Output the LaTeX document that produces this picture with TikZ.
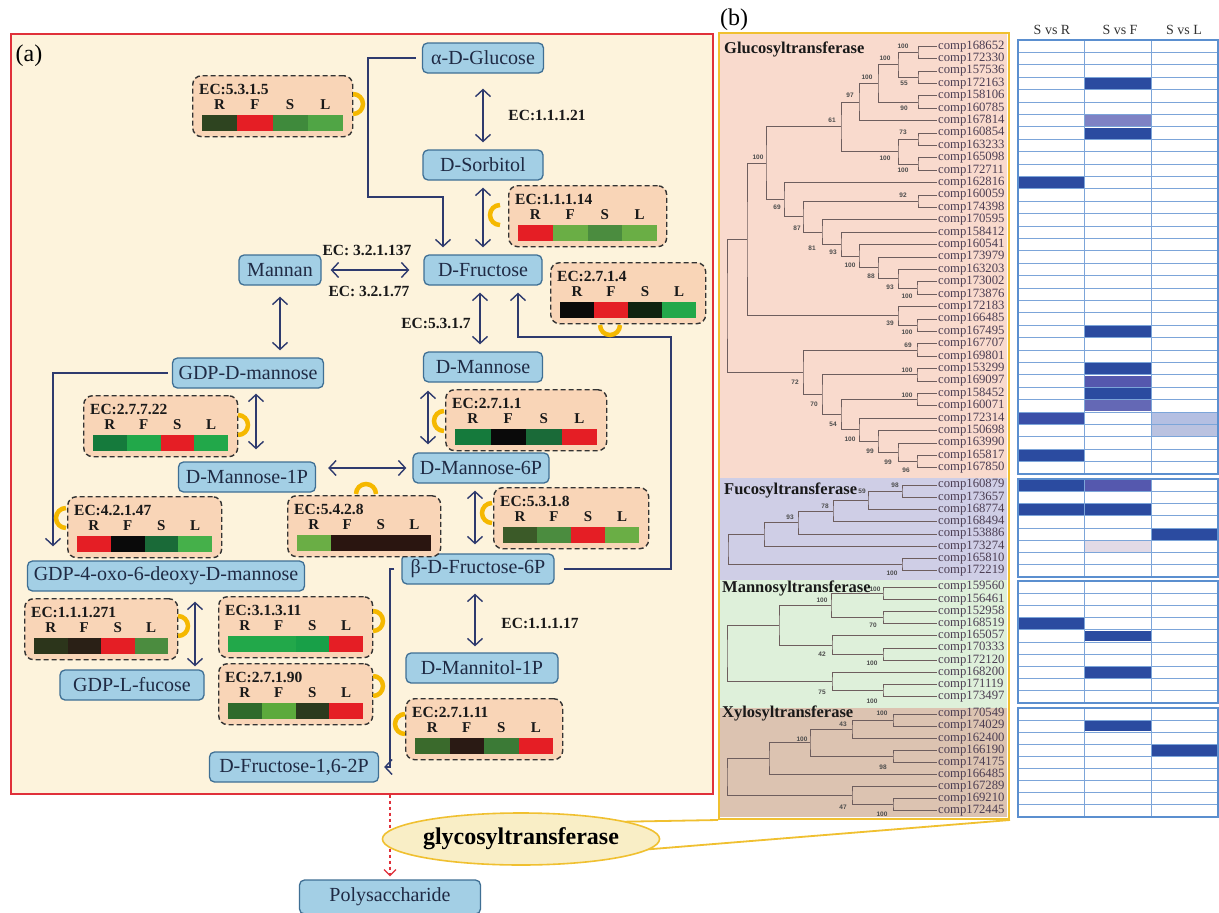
\documentclass[tikz,border=0pt]{standalone}
\usepackage{fontspec}
\setmainfont{Liberation Serif}
\newfontfamily\bsfont{Liberation Sans}
\newfontfamily\leaffont{Liberation Serif}
\usetikzlibrary{arrows.meta,calc,shapes.geometric}

\definecolor{navy}{HTML}{2E3A6E}
\definecolor{boxfill}{HTML}{A3CFE5}
\definecolor{boxdraw}{HTML}{3F6F94}
\definecolor{nodetext}{HTML}{1F2A44}
\definecolor{cream}{HTML}{FDF3DC}
\definecolor{ecfill}{HTML}{F9D5B7}
\definecolor{panelred}{HTML}{E0303A}
\definecolor{gold}{HTML}{F0C030}
\definecolor{arcgold}{HTML}{F5B800}
\definecolor{ellfill}{HTML}{F9EEC6}
% heat (panel a)
\definecolor{hred}{HTML}{E51E25}
\definecolor{hblack}{HTML}{0A0A0A}
\definecolor{hvdg}{HTML}{102310}
\definecolor{hbrg}{HTML}{22A84A}
\definecolor{hg}{HTML}{157A3C}
\definecolor{hdg}{HTML}{1A6A38}
\definecolor{hlg}{HTML}{6AAE45}
\definecolor{hlg2}{HTML}{45B04A}
\definecolor{hmg}{HTML}{4B8C3F}
\definecolor{holive}{HTML}{3B5A28}
\definecolor{hdk1}{HTML}{2C351B}
\definecolor{hdk2}{HTML}{2A2016}
\definecolor{hbrown}{HTML}{2A1510}
\definecolor{hdkg}{HTML}{2E4420}
\definecolor{hmg2}{HTML}{3F8A3C}
\definecolor{hlg3}{HTML}{50A545}
\definecolor{hg3}{HTML}{18A048}
\definecolor{hdg4}{HTML}{2F6A2C}
\definecolor{hlg4}{HTML}{5CAA3C}
\definecolor{hdk4}{HTML}{2B3A1E}
\definecolor{hdg5}{HTML}{3A6A2C}
\definecolor{hdk5}{HTML}{2A1A14}
\definecolor{hmg5}{HTML}{3B7A36}
% panel b
\definecolor{gbg}{HTML}{F9DACD}
\definecolor{fbg}{HTML}{CFCEE6}
\definecolor{mbg}{HTML}{DEF0DA}
\definecolor{xbg}{HTML}{DCC3B1}
\definecolor{treecol}{HTML}{6E5E5E}
\definecolor{leafcol}{HTML}{4B3D52}
\definecolor{hb}{HTML}{2B4BA0}
\definecolor{hbb}{HTML}{3A4FA8}
\definecolor{hm1}{HTML}{5558AE}
\definecolor{hm2}{HTML}{6468B5}
\definecolor{hm3}{HTML}{7E82C4}
\definecolor{hl1}{HTML}{B4BFE2}
\definecolor{hl2}{HTML}{BAC2E0}
\definecolor{hvl}{HTML}{E2DAE6}
\definecolor{gridcol}{HTML}{5B8FCF}

\newcommand\ecbox[9]{%
  \node[ecbox, minimum width={(#4)-(#2)}, anchor=north west] (#1) at (#2,#3) {};
  \node[eclab, anchor=base west] (#1-lab) at (#2+7,#3+19) {#5};
  \pgfmathsetmacro\ecw{((#4)-(#2)-19)/4}%
  \foreach \c/\l [count=\i from 0] in {#6/R,#7/F,#8/S,#9/L}{%
    \fill[\c] (#2+10+\i*\ecw,#3+40) rectangle ++(\ecw,16);
    \node[rfsl, anchor=base] (#1-\l) at (#2+10+\i*\ecw+\ecw/2,#3+34) {\l};
  }%
}
\newcommand\yarc[3]{% x y start-angle
  \draw[yarc] ([shift={(#3:10pt)}]#1,#2) arc[start angle=#3, delta angle=180, radius=10pt];
}
\newcommand\inode[4]{%
  \coordinate (#1m) at ($(#3)!0.5!(#4)$);
  \coordinate (#1) at (#2,0 |- #1m);
  \draw[tree] (#3) -| (#1) |- (#4);
}
\newcommand\leafrow[4]{% prefix y0 dy list
  \foreach \n [count=\i from 0] in {#4}{%
    \coordinate (#1l\i) at (937,{#2+#3*\i});
    \node[anchor=west, inner sep=1pt, text=leafcol] (#1t\i) at (#1l\i) {\leaffont\fontsize{12.7}{13}\selectfont comp\n};
  }%
}
\newcommand\hgrid[3]{%
  \fill[white] (1018,{#1-#2/2}) rectangle (1218,{#1+#2*(#3-0.5)});
}
\newcommand\hlines[3]{%
  \foreach \k in {1,...,#3} \draw[hline] (1018,{#1+#2*(\k-0.5)}) -- (1218,{#1+#2*(\k-0.5)});
  \draw[hline] (1084.67,{#1-#2/2}) -- (1084.67,{#1+#2*(#3-0.5)});
  \draw[hline] (1151.33,{#1-#2/2}) -- (1151.33,{#1+#2*(#3-0.5)});
  \draw[hborder] (1018,{#1-#2/2}) rectangle (1218,{#1+#2*(#3-0.5)});
}
\newcommand\hc[5]{%
  \fill[#5] ({1018+66.67*#4+0.7},{#1+#2*(#3-0.5)+0.7}) rectangle ++({66.67-1.4},{#2-1.4});
}

\begin{document}
\begin{tikzpicture}[x=1pt,y=-1pt,
  box/.style={rectangle, rounded corners=5pt, fill=boxfill, draw=boxdraw, line width=1.3pt,
     minimum height=30pt, inner sep=0pt, text=nodetext, font=\fontsize{20}{22}\selectfont},
  ecbox/.style={rectangle, rounded corners=9pt, fill=ecfill, draw=black!80, dash pattern=on 5pt off 3pt,
     line width=1.4pt, minimum height=61pt, inner sep=0pt},
  eclab/.style={inner sep=0pt, text=black!90, font=\bfseries\fontsize{15.5}{17}\selectfont},
  rfsl/.style={inner sep=0pt, text=black!90, font=\bfseries\fontsize{15}{17}\selectfont},
  dbl/.style={draw=navy, line width=1.4pt, {Straight Barb[length=7pt,width=15pt]}-{Straight Barb[length=7pt,width=15pt]}},
  arr/.style={draw=navy, line width=1.4pt, -{Straight Barb[length=7pt,width=15pt]}},
  yarc/.style={draw=arcgold, line width=4.5pt},
  tree/.style={draw=treecol, line width=1pt},
  bs/.style={inner sep=0pt, text=black!70, font=\bsfont\bfseries\fontsize{6.5}{7}\selectfont},
  sect/.style={anchor=west, inner sep=0pt, text=black!90, font=\bfseries\fontsize{16.5}{18}\selectfont},
  hline/.style={draw=gridcol!80, line width=0.9pt},
  hborder/.style={draw=gridcol, line width=1.3pt},
  hdr/.style={inner sep=0pt, text=black!80, font=\fontsize{14}{15}\selectfont},
  goldline/.style={draw=gold, line width=1.8pt}]
\useasboundingbox (0,0) rectangle (1219,913);
\fill[white] (0,0) rectangle (1219,913);

%================ PANEL A =================
\node[draw=panelred, fill=cream, line width=1.5pt, minimum width=702pt, minimum height=760pt,
      anchor=north west, inner sep=0pt] (pa) at (10,33) {};
\node[inner sep=0pt, font=\fontsize{24}{26}\selectfont] (la) at (29,56) {(a)};

% metabolites
\node[box, minimum width=121pt] (glc) at (483,58) {α-D-Glucose};
\node[box, minimum width=120pt] (sor) at (483,165) {D-Sorbitol};
\node[box, minimum width=118pt] (fru) at (483,270) {D-Fructose};
\node[box, minimum width=82pt] (mnn) at (280,270) {Mannan};
\node[box, minimum width=119pt] (dman) at (483,367) {D-Mannose};
\node[box, minimum width=151pt] (gdpm) at (248,373) {GDP-D-mannose};
\node[box, minimum width=137pt] (m1p) at (247,477) {D-Mannose-1P};
\node[box, minimum width=136pt] (m6p) at (481,468) {D-Mannose-6P};
\node[box, minimum width=277pt] (gdp4) at (166,576) {GDP-4-oxo-6-deoxy-D-mannose};
\node[box, minimum width=152pt] (f6p) at (478,569) {β-D-Fructose-6P};
\node[box, minimum width=152pt] (mtl) at (482,668) {D-Mannitol-1P};
\node[box, minimum width=144pt] (fuc) at (132,685) {GDP-L-fucose};
\node[box, minimum width=169pt] (f16) at (294,767) {D-Fructose-1,6-2P};

% enzyme labels
\node[eclab] (e1121) at (547,115) {EC:1.1.1.21};
\node[eclab] (e137) at (367,250) {EC: 3.2.1.137};
\node[eclab] (e77) at (369,291) {EC: 3.2.1.77};
\node[eclab] (e5317) at (436,323) {EC:5.3.1.7};
\node[eclab] (e11117) at (540,623) {EC:1.1.1.17};

% connectors
\draw[dbl, shorten <=15pt, shorten >=7pt] (glc.south) -- (sor.north);
\draw[dbl, shorten <=7pt, shorten >=7pt] (sor.south) -- (fru.north);
\coordinate (b1) at (368,197);
\draw[arr, shorten <=6pt, shorten >=7pt] (glc.west) -| (b1) -| ([xshift=-40pt]fru.north);
\draw[dbl, shorten <=9pt, shorten >=14pt] (mnn.east) -- (fru.west);
\draw[dbl, shorten <=11pt, shorten >=7pt] (mnn.south) -- (mnn.south |- gdpm.north);
\draw[dbl, shorten <=7pt, shorten >=7pt] ([xshift=-3pt]fru.south) -- ([xshift=-3pt]dman.north);
\coordinate (b2) at (671,337);
\draw[arr, shorten <=9pt, shorten >=7pt] (f6p.east) -| (b2) -| ([xshift=35pt]fru.south);
\draw[dbl, shorten <=8pt, shorten >=8pt] ([xshift=-55pt]dman.south) -- ([xshift=-55pt]dman.south |- m6p.north);
\draw[dbl, shorten <=5pt, shorten >=12pt] ([xshift=8pt]gdpm.south) -- ([xshift=8pt]gdpm.south |- m1p.north);
\draw[dbl, shorten <=12pt, shorten >=6pt] (m1p.east |- m6p.west) -- (m6p.west);
\draw[dbl, shorten <=7pt, shorten >=9pt] ([xshift=-6pt]m6p.south) -- ([xshift=-6pt]m6p.south |- f6p.north);
\draw[dbl, shorten <=9pt, shorten >=6pt] ([xshift=-3pt]f6p.south) -- ([xshift=-3pt]f6p.south |- mtl.north);
\draw[arr, shorten <=4pt, shorten >=14pt] (gdpm.west) -| ([xshift=-113pt]gdp4.north);
\draw[dbl, shorten <=10pt, shorten >=3pt] ([xshift=29pt]gdp4.south) -- ([xshift=29pt]gdp4.south |- fuc.north);
\draw[arr, shorten <=7pt, shorten >=5pt] (f6p.west) -| ([xshift=11pt]f16.east) -- (f16.east);

% enzyme boxes
\ecbox{ec1}{192}{75}{352}{EC:5.3.1.5}{hdkg}{hred}{hmg2}{hlg3}
\ecbox{ec2}{508}{185}{666}{EC:1.1.1.14}{hred}{hlg}{hmg}{hlg}
\ecbox{ec3}{550}{262}{705}{EC:2.7.1.4}{hblack}{hred}{hvdg}{hbrg}
\ecbox{ec4}{445}{389}{606}{EC:2.7.1.1}{hg}{hblack}{hdg}{hred}
\ecbox{ec5}{83}{395}{237}{EC:2.7.7.22}{hg}{hbrg}{hred}{hbrg}
\ecbox{ec6}{67}{496}{221}{EC:4.2.1.47}{hred}{hblack}{hdg}{hlg2}
\ecbox{ec7}{287}{495}{440}{EC:5.4.2.8}{hlg}{hbrown}{hbrown}{hbrown}
\ecbox{ec8}{493}{487}{648}{EC:5.3.1.8}{holive}{hmg}{hred}{hlg}
\ecbox{ec9}{24}{598}{177}{EC:1.1.1.271}{hdk1}{hdk2}{hred}{hmg}
\ecbox{ec10}{218}{596}{372}{EC:3.1.3.11}{hbrg}{hbrg}{hg3}{hred}
\ecbox{ec11}{218}{663}{372}{EC:2.7.1.90}{hdg4}{hlg4}{hdk4}{hred}
\ecbox{ec12}{405}{698}{562}{EC:2.7.1.11}{hdg5}{hdk5}{hmg5}{hred}

% gold arcs
\yarc{353}{104}{-90}
\yarc{500}{215}{90}
\yarc{610}{325}{180}
\yarc{444}{421}{90}
\yarc{238}{425}{-90}
\yarc{66}{518}{90}
\yarc{366}{494}{0}
\yarc{492}{513}{90}
\yarc{178}{626}{-90}
\yarc{373}{621}{-90}
\yarc{373}{686}{-90}
\yarc{405}{724}{90}

% bottom part
\node[box, minimum width=181pt, minimum height=34pt] (poly) at (390,897) {Polysaccharide};
\draw[draw=panelred, line width=1.2pt, dashed, -{Straight Barb[length=6pt,width=12pt]}, shorten >=3pt]
   (poly.north |- pa.south) -- (poly.north);

%================ PANEL B =================
\fill[gbg] (719,33) rectangle (1007,478);
\fill[fbg] (719,478) rectangle (1007,580);
\fill[mbg] (719,580) rectangle (1007,708);
\fill[xbg] (719,708) rectangle (1007,817);

\node[inner sep=0pt, font=\fontsize{24}{26}\selectfont] (lb) at (734,20) {(b)};

% leaves
\leafrow{g}{46.2}{12.4}{168652,172330,157536,172163,158106,160785,167814,160854,163233,165098,172711,162816,160059,174398,170595,158412,160541,173979,163203,173002,173876,172183,166485,167495,167707,169801,153299,169097,158452,160071,172314,150698,163990,165817,167850}
\leafrow{f}{485.1}{12.25}{160879,173657,168774,168494,153886,173274,165810,172219}
\leafrow{m}{587.1}{12.2}{159560,156461,152958,168519,165057,170333,172120,168200,171119,173497}
\leafrow{x}{714}{12.11}{170549,174029,162400,166190,174175,166485,167289,169210,172445}

% glucosyltransferase tree
\inode{gA}{918}{gl0}{gl1}
\inode{gB}{918}{gl2}{gl3}
\inode{gC}{898}{gA}{gB}
\inode{gD}{918}{gl4}{gl5}
\inode{gE}{878}{gC}{gD}
\inode{gF}{859}{gE}{gl6}
\inode{gG}{918}{gl7}{gl8}
\inode{gH}{918}{gl9}{gl10}
\inode{gI}{898}{gG}{gH}
\inode{gJ}{841}{gF}{gI}
\inode{gK}{918}{gl12}{gl13}
\inode{gT}{917}{gl19}{gl20}
\inode{gS}{898}{gl18}{gT}
\inode{gR}{878}{gl17}{gS}
\inode{gQ}{859}{gl16}{gR}
\inode{gP}{841}{gl15}{gQ}
\inode{gO}{822}{gl14}{gP}
\inode{gN}{803}{gK}{gO}
\inode{gM}{784}{gl11}{gN}
\inode{gL}{766}{gJ}{gM}
\inode{gU}{917}{gl22}{gl23}
\inode{gV}{898}{gl21}{gU}
\inode{gW}{747}{gL}{gV}
\inode{ga}{917}{gl24}{gl25}
\inode{gb}{917}{gl26}{gl27}
\inode{gc}{917}{gl28}{gl29}
\inode{gd}{917}{gl33}{gl34}
\inode{ge}{898}{gl32}{gd}
\inode{gf}{878}{gl31}{ge}
\inode{gg}{859}{gl30}{gf}
\inode{gh}{841}{gc}{gg}
\inode{gi}{822}{gb}{gh}
\inode{gj}{803}{ga}{gi}
\inode{groot}{727}{gW}{gj}
% fucosyl
\inode{fA}{902}{fl0}{fl1}
\inode{fB}{868}{fA}{fl2}
\inode{fC}{833}{fB}{fl3}
\inode{fD}{798}{fC}{fl4}
\inode{fE}{764}{fD}{fl5}
\inode{fF}{902}{fl6}{fl7}
\inode{froot}{728}{fE}{fF}
% mannosyl
\inode{mA}{883}{ml0}{ml1}
\inode{mB}{883}{ml2}{ml3}
\inode{mC}{831}{mA}{mB}
\inode{mD}{883}{ml5}{ml6}
\inode{mE}{832}{ml4}{mD}
\inode{mF}{779}{mC}{mE}
\inode{mG}{883}{ml8}{ml9}
\inode{mH}{832}{ml7}{mG}
\inode{mroot}{727}{mF}{mH}
% xylosyl
\inode{xA}{893}{xl0}{xl1}
\inode{xB}{852}{xA}{xl2}
\inode{xC}{893}{xl3}{xl4}
\inode{xD}{810}{xB}{xC}
\inode{xE}{769}{xD}{xl5}
\inode{xF}{893}{xl7}{xl8}
\inode{xG}{852}{xl6}{xF}
\inode{xroot}{727}{xE}{xG}

% bootstrap values
\foreach \x/\y/\t [count=\k] in {903/46/100,885/58/100,904/83/55,867/77/100,850/95/97,904/108/90,832/120/61,903/132/73,885/158/100,903/170/100,758/157/100,903/195/92,777/207/69,797/228/87,812/248/81,833/252/93,850/265/100,871/276/88,890/287/93,907/296/100,890/323/39,907/332/100,908/345/69,795/382/72,907/370/100,814/404/70,907/395/100,833/424/54,850/439/100,870/451/99,888/462/99,906/470/96,895/485/98,862/491/59,825/506/78,790/517/93,892/573/100,875/589/100,822/600/100,873/625/70,822/654/42,872/663/100,822/692/75,872/701/100,882/713/100,843/724/43,802/739/100,883/767/98,882/814/100,843/807/47}
  \node[bs] (bs\k) at (\x,\y) {\t};

% section titles
\node[sect] (sg) at (724,49) {Glucosyltransferase};
\node[sect] (sf) at (724,490) {Fucosyltransferase};
\node[sect] (sm) at (722,588) {Mannosyltransferase};
\node[sect] (sx) at (722,713) {Xylosyltransferase};

\node[draw=gold, line width=2pt, minimum width=290pt, minimum height=786pt, anchor=north west, inner sep=0pt] (pb) at (718,32) {};

% heatmap
\node[hdr] (hR) at (1052,30) {S vs R};
\node[hdr] (hF) at (1120,30) {S vs F};
\node[hdr] (hL) at (1184,30) {S vs L};
\hgrid{46.2}{12.4}{35}
\hgrid{485.1}{12.25}{8}
\hgrid{587.1}{12.2}{10}
\hgrid{714}{12.11}{9}
% gluco cells
\hc{46.2}{12.4}{3}{1}{hb}
\hc{46.2}{12.4}{6}{1}{hm3}
\hc{46.2}{12.4}{7}{1}{hb}
\hc{46.2}{12.4}{11}{0}{hb}
\hc{46.2}{12.4}{23}{1}{hb}
\hc{46.2}{12.4}{26}{1}{hb}
\hc{46.2}{12.4}{27}{1}{hm1}
\hc{46.2}{12.4}{28}{1}{hb}
\hc{46.2}{12.4}{29}{1}{hm2}
\hc{46.2}{12.4}{30}{0}{hbb}
\hc{46.2}{12.4}{30}{2}{hl1}
\hc{46.2}{12.4}{31}{2}{hl2}
\hc{46.2}{12.4}{33}{0}{hb}
% fuco cells
\hc{485.1}{12.25}{0}{0}{hb}
\hc{485.1}{12.25}{0}{1}{hm1}
\hc{485.1}{12.25}{2}{0}{hb}
\hc{485.1}{12.25}{2}{1}{hb}
\hc{485.1}{12.25}{4}{2}{hb}
\hc{485.1}{12.25}{5}{1}{hvl}
% manno cells
\hc{587.1}{12.2}{3}{0}{hb}
\hc{587.1}{12.2}{4}{1}{hb}
\hc{587.1}{12.2}{7}{1}{hb}
% xylo cells
\hc{714}{12.11}{1}{1}{hb}
\hc{714}{12.11}{3}{2}{hb}
\hlines{46.2}{12.4}{35}
\hlines{485.1}{12.25}{8}
\hlines{587.1}{12.2}{10}
\hlines{714}{12.11}{9}

%================ glycosyltransferase =================
\draw[goldline] (607,822) -- (pb.south west);
\draw[goldline] (640,850) -- (pb.south east);
\node[ellipse, draw=gold, fill=ellfill, line width=1.6pt, minimum width=242pt, minimum height=52pt,
      inner sep=0pt, font=\bfseries\fontsize{24}{26}\selectfont] (gly) at (521,839) {glycosyltransferase};
\end{tikzpicture}
\end{document}
